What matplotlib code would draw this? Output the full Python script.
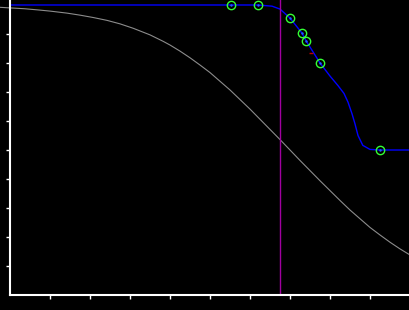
import numpy as np
import matplotlib
matplotlib.use("Agg")
import matplotlib.pyplot as plt

# gray reference curve
gray_x = [-0.25, 0.0, 0.375, 0.7, 1.0, 1.425, 1.75, 2.075, 2.425, 2.75, 3.075, 3.5,
          3.825, 4.0, 4.25, 4.5, 4.75, 5.0, 5.25, 5.5, 5.75, 6.0, 6.25, 6.5, 6.75,
          7.0, 7.25, 7.5, 7.75, 8.0, 8.25, 8.5, 8.75, 9.0, 9.25, 9.5, 9.75, 10.0]
gray_y = [0.992, 0.990, 0.987, 0.983, 0.979, 0.972, 0.965, 0.957, 0.947, 0.935,
          0.920, 0.897, 0.875, 0.862, 0.841, 0.818, 0.793, 0.767, 0.737, 0.707,
          0.674, 0.641, 0.606, 0.571, 0.536, 0.500, 0.464, 0.429, 0.394, 0.360,
          0.326, 0.293, 0.263, 0.233, 0.207, 0.182, 0.159, 0.138]

# blue step-like curve
blue_x = [0.0, 6.2, 6.375, 6.55, 6.75, 7.0, 7.3, 7.4, 7.75, 8.0, 8.2, 8.35, 8.45,
          8.55, 8.625, 8.7, 8.82, 9.0, 9.24, 10.0]
blue_y = [1.0, 1.0, 0.998, 0.996, 0.986, 0.955, 0.903, 0.877, 0.8, 0.755, 0.722,
          0.695, 0.665, 0.625, 0.59, 0.55, 0.516, 0.502, 0.5, 0.5]

# green sample points
pts_x = [5.53, 6.21, 7.01, 7.31, 7.41, 7.76, 9.24]
pts_y = [1.0, 1.0, 0.954, 0.902, 0.877, 0.799, 0.5]

vline_x = 6.75
red_x, red_y = 7.525, 0.834

fig = plt.figure(figsize=(4.1, 3.1), dpi=100, facecolor="black")
ax = fig.add_axes([10 / 410, 15 / 310, 400 / 410, 295 / 310])
ax.set_facecolor("black")

ax.plot(gray_x, gray_y, color="#8c8c8c", lw=0.8, clip_on=False)
ax.plot(blue_x, blue_y, color="#0000ff", lw=1.0)
ax.axvline(vline_x, color="#a000a0", lw=1.0)
ax.plot(pts_x, pts_y, "o", ms=6, mfc="none", mec="#33ff33", mew=1.0, clip_on=False)
ax.plot(pts_x, pts_y, ".", ms=1.5, color="#2060ff")
ax.plot([red_x], [red_y], "_", ms=2.5, color="#c00000", mew=1.0)

ax.set_xlim(0, 10)
ax.set_ylim(0, 1.0 + 5 / 290)
ax.set_xticks(np.arange(1, 10))
ax.set_yticks(np.arange(1, 10) / 10)
ax.set_xticklabels([])
ax.set_yticklabels([])
ax.tick_params(colors="white", length=3, width=1, direction="out")
for s in ["top", "right"]:
    ax.spines[s].set_visible(False)
for s in ["left", "bottom"]:
    ax.spines[s].set_color("white")
    ax.spines[s].set_linewidth(1.5)

fig.savefig("out.png", dpi=100, facecolor="black")
